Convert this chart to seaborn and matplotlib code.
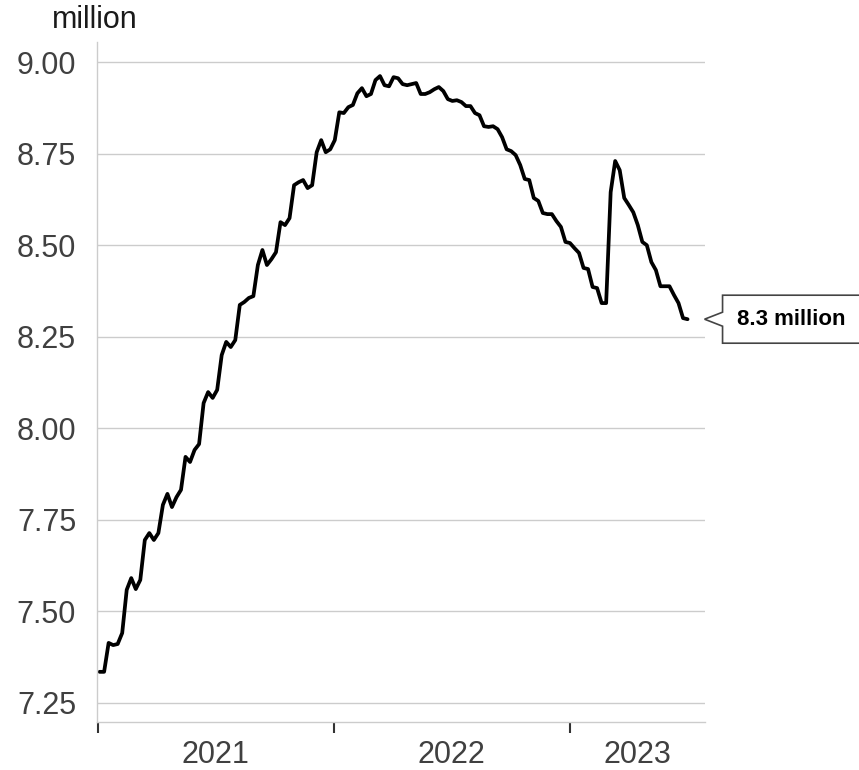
import matplotlib.pyplot as plt
import matplotlib.dates as mdates
import numpy as np
import pandas as pd
import seaborn as sns
from matplotlib.patches import Polygon

# weekly figures, millions
start_week = "2021-01-03"
values = [
    7.335, 7.335, 7.414, 7.408, 7.411, 7.441, 7.559, 7.591, 7.561, 7.586,
    7.695, 7.714, 7.695, 7.714, 7.791, 7.821, 7.785, 7.812, 7.832, 7.922,
    7.908, 7.941, 7.957, 8.069, 8.099, 8.083, 8.105, 8.200, 8.236, 8.222,
    8.241, 8.337, 8.345, 8.356, 8.361, 8.446, 8.487, 8.446, 8.462, 8.481,
    8.563, 8.555, 8.574, 8.664, 8.672, 8.678, 8.656, 8.664, 8.754, 8.787,
    8.754, 8.762, 8.787, 8.863, 8.861, 8.877, 8.883, 8.915, 8.929, 8.907,
    8.913, 8.951, 8.962, 8.937, 8.934, 8.959, 8.956, 8.940, 8.937, 8.940,
    8.943, 8.913, 8.913, 8.918, 8.926, 8.932, 8.921, 8.899, 8.894, 8.896,
    8.891, 8.880, 8.880, 8.861, 8.855, 8.825, 8.823, 8.825, 8.817, 8.795,
    8.762, 8.757, 8.746, 8.719, 8.681, 8.678, 8.629, 8.621, 8.588, 8.585,
    8.585, 8.566, 8.550, 8.509, 8.506, 8.492, 8.479, 8.438, 8.435, 8.386,
    8.383, 8.342, 8.342, 8.645, 8.730, 8.705, 8.629, 8.610, 8.590, 8.555,
    8.509, 8.500, 8.454, 8.432, 8.388, 8.388, 8.388, 8.364, 8.342, 8.301,
    8.298,
]
year_starts = ["2021-01-01", "2022-01-01", "2023-01-01"]
year_label_pos = ["2021-07-02", "2022-07-02", "2023-04-16"]
year_labels = ["2021", "2022", "2023"]
y_ticks = [7.25, 7.50, 7.75, 8.00, 8.25, 8.50, 8.75, 9.00]
callout_text = "8.3 million"

df = pd.DataFrame({
    "week": pd.date_range(start_week, periods=len(values), freq="7D"),
    "value": values,
})

sns.set_style("white")
plt.rcParams["font.family"] = ["Liberation Sans", "DejaVu Sans"]

fig = plt.figure(figsize=(8.59, 7.70), dpi=100)
ax = fig.add_axes([97 / 859, 48 / 770, 608 / 859, 680 / 770])

sns.lineplot(data=df, x="week", y="value", color="black", linewidth=2.7, ax=ax)

ax.set_xlim(pd.Timestamp("2020-12-30"), pd.Timestamp("2023-07-29"))
ax.set_ylim(7.198, 9.055)
ax.set_xlabel("")
ax.set_ylabel("")

ax.set_yticks(y_ticks)
ax.set_yticklabels([f"{v:.2f}" for v in y_ticks])
ax.yaxis.grid(True, color="#cccccc", linewidth=1)
ax.xaxis.grid(False)

ax.set_xticks(pd.to_datetime(year_starts))
ax.set_xticklabels([])
ax.set_xticks(pd.to_datetime(year_label_pos), minor=True)
ax.set_xticklabels(year_labels, minor=True)

ax.tick_params(axis="y", which="major", length=8, width=1, color="#333333",
               labelsize=22, labelcolor="#404040", pad=7)
ax.tick_params(axis="x", which="major", length=8, width=1.5, color="#333333",
               direction="out", bottom=True)
ax.tick_params(axis="x", which="minor", length=0, labelsize=22,
               labelcolor="#404040", pad=13)

for side in ["top", "right"]:
    ax.spines[side].set_visible(False)
for side in ["left", "bottom"]:
    ax.spines[side].set_color("#cccccc")
    ax.spines[side].set_linewidth(1)

fig.text(95 / 859, 1 - 28 / 770, "million", ha="center", va="baseline",
         fontsize=22, color="#1a1a1a")

# callout box pointing at last value
fig.canvas.draw()
last_x, last_y = ax.transData.transform(
    (mdates.date2num(df["week"].iloc[-1]), df["value"].iloc[-1]))
tip_x = last_x + 17
h = 24
pts = np.array([
    [tip_x, last_y],
    [tip_x + 18, last_y + 7],
    [tip_x + 18, last_y + h],
    [tip_x + 200, last_y + h],
    [tip_x + 200, last_y - h],
    [tip_x + 18, last_y - h],
    [tip_x + 18, last_y - 7],
])
poly = Polygon(pts, closed=True, transform=None, facecolor="white",
               edgecolor="#444444", linewidth=1.2, clip_on=False)
fig.patches.append(poly)
fig.text((tip_x + 32) / 859, last_y / 770, callout_text, ha="left",
         va="center", fontsize=16, fontweight="bold", color="black")

fig.savefig("out.png", dpi=100)
